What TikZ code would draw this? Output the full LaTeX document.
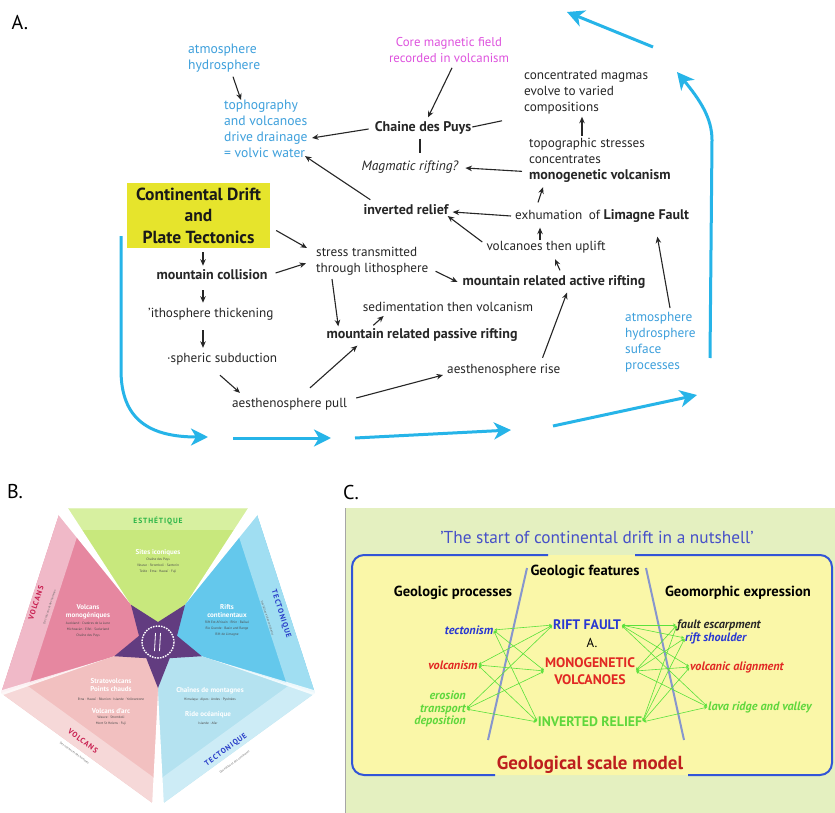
\documentclass[tikz,border=0pt]{standalone}
\usepackage{fontspec}
\setmainfont{PT Sans}
\usetikzlibrary{arrows.meta,calc}
% panel A colours
\definecolor{skyt}{RGB}{62,160,220}
\definecolor{magt}{RGB}{222,82,222}
\definecolor{cyanarr}{RGB}{38,180,232}
\definecolor{ybox}{RGB}{230,228,44}
% panel C colours
\definecolor{cgreen}{RGB}{228,240,192}
\definecolor{cyellow}{RGB}{250,247,168}
\definecolor{cframe}{RGB}{50,85,215}
\definecolor{cdivider}{RGB}{135,150,205}
\definecolor{ctitle}{RGB}{70,80,200}
\definecolor{cblue}{RGB}{40,55,210}
\definecolor{cred}{RGB}{225,40,35}
\definecolor{cgreentext}{RGB}{95,215,60}
\definecolor{carrow}{RGB}{90,225,60}
\definecolor{cmodel}{RGB}{190,30,30}
% panel B colours
\definecolor{bgreen}{RGB}{200,232,125}
\definecolor{bgreenband}{RGB}{215,240,160}
\definecolor{bblue}{RGB}{100,200,236}
\definecolor{bblueband}{RGB}{160,222,242}
\definecolor{blblue}{RGB}{180,226,240}
\definecolor{blblueband}{RGB}{205,236,246}
\definecolor{blpink}{RGB}{242,192,192}
\definecolor{blpinkband}{RGB}{246,216,216}
\definecolor{bpink}{RGB}{230,135,160}
\definecolor{bpinkband}{RGB}{240,185,200}
\definecolor{bstar}{RGB}{98,60,128}
\definecolor{bvolc}{RGB}{200,30,80}
\definecolor{btect}{RGB}{40,60,200}
\definecolor{besth}{RGB}{40,180,70}
% bold words inside a regular label
\newcommand{\boldpart}[1]{{\fontsize{14}{16}\selectfont\bfseries #1}}
\begin{document}
\begin{tikzpicture}[x=1pt,y=-1pt,
  lab/.style={font=\fontsize{13.2}{16}\selectfont, inner sep=0pt, align=left, text=black!85},
  skylab/.style={lab, font=\fontsize{13.6}{16}\selectfont, text=skyt},
  bld/.style={lab, font=\fontsize{14}{16}\selectfont\bfseries},
  cdbox/.style={fill=ybox, font=\fontsize{17.5}{21.5}\selectfont\bfseries, align=center,
    minimum width=143, minimum height=65, inner sep=0pt, text=black!90},
  arr/.style={-{Stealth[length=6.5pt,width=5.5pt]}, line width=1.1pt, black!85},
  ln/.style={line width=1.1pt, black!85},
  carr/.style={-{Stealth[length=17pt,width=17pt,inset=5pt]}, line width=3pt, cyanarr},
  panel/.style={font=\fontsize{20}{22}\selectfont, inner sep=0pt},
  ch/.style={font=\fontsize{14.6}{16}\selectfont\bfseries, inner sep=0pt},
  cc/.style={font=\fontsize{13.8}{17}\selectfont\bfseries, inner sep=0pt},
  ci/.style={font=\fontsize{12.2}{12.5}\selectfont\bfseries\itshape, inner sep=0pt},
  garr/.style={{Stealth[length=3pt,width=3pt]}-{Stealth[length=3pt,width=3pt]}, line width=0.6pt, carrow, shorten <=1pt, shorten >=1pt},
  btitle/.style={font=\fontsize{7.5}{9}\selectfont\bfseries\addfontfeature{LetterSpace=12}, inner sep=0pt},
  bsub/.style={font=\fontsize{3}{4}\selectfont, inner sep=0pt, text=black!60},
  bhead/.style={font=\fontsize{7}{8.5}\selectfont\bfseries, inner sep=0pt, text=white, align=center},
  bsmall/.style={font=\fontsize{3.4}{6}\selectfont, inner sep=0pt, text=black!70, align=center}
]
\useasboundingbox (0,0) rectangle (835,813);
\fill[white] (0,0) rectangle (835,813);

%================ panel A ================
\node[panel] (pA) at (20,23) {A.};

\node[skylab,anchor=north west] (atm1) at (188,44) {atmosphere\\hydrosphere};
\node[skylab,anchor=north west] (topo) at (224,100) {tophography\\and volcanoes\\drive drainage\\= volvic water};
\node[lab,font=\fontsize{12.8}{16}\selectfont,text=magt,align=center] (core) at (449,50) {Core magnetic field\\recorded in volcanism};
\node[bld] (puys) at (423,128) {Chaine des Puys};
\node[lab,font=\fontsize{13.5}{16}\selectfont\itshape] (magrift) at (410,167) {Magmatic rifting?};
\node[lab,anchor=north west] (conc) at (524,70) {concentrated magmas\\evolve to varied\\compositions};
\node[lab,anchor=north west] (topost) at (529,138) {topographic stresses\\concentrates\\\boldpart{monogenetic volcanism}};
\node[bld] (inv) at (406,210) {inverted relief};
\node[lab,anchor=west] (exh) at (515,216) {exhumation\enspace of \boldpart{Limagne Fault}};
\node[lab] (vup) at (546,247) {volcanoes then uplift};
\node[bld] (active) at (554,282) {mountain related active rifting};
\node[skylab,font=\fontsize{13.3}{16}\selectfont,anchor=north west] (atm2) at (625,312) {atmosphere\\hydrosphere\\suface\\processes};
\node[cdbox] (cdpt) at (198.5,215.5) {Continental Drift\\and\\Plate Tectonics};
\node[lab,anchor=north west] (stress) at (316,247) {stress transmitted\\through lithosphere};
\node[bld] (coll) at (212,275) {mountain collision};
\node[lab,anchor=west] (thick) at (148,314) {'ithosphere thickening};
\node[lab,anchor=west] (subd) at (167,359) {·spheric subduction};
\node[lab,anchor=west] (pull) at (232,404) {aesthenosphere pull};
\node[lab,anchor=west] (rise) at (447,370) {aesthenosphere rise};
\node[bld] (passive) at (422,335) {mountain related passive rifting};
\node[lab] (sedim) at (448,307) {sedimentation then volcanism};

\draw[arr] ($(atm1.south west)+(45,4)$) -- ($(topo.north west)+(17,0)$);
\draw[arr] ($(puys.west)+(-6,1)$) -- ($(topo.north west)+(88,38)$);
\draw[arr] ($(core.south)+(3,5)$) -- ($(puys.north)+(5,-4)$);
\draw[ln] ($(puys.east)+(1,-1)$) -- ($(conc.south west)+(-22,6.5)$);
\draw[ln] ($(puys.south)+(-3,4)$) -- ($(magrift.north)+(10,-8)$);
\draw[arr] ($(topost.west)+(-7,11)$) -- ($(magrift.east)+(7,1)$);
\draw[arr] ($(topost.north west)+(53,-2)$) -- ($(conc.south west)+(58,2.5)$);
\draw[arr] ($(exh.north west)+(23,-7)$) -- ($(topost.south west)+(14,4.5)$);
\draw[arr] ($(exh.west)+(-4,0)$) -- ($(inv.east)+(4,2)$);
\draw[arr] ($(inv.north west)+(7,-5)$) -- ($(topo.south west)+(81,-2)$);
\draw[arr] ($(vup.north)+(-6,-1)$) -- ($(exh.south west)+(25,5)$);
\draw[arr] ($(vup.west)+(-4,-5)$) -- ($(inv.east)+(-1,6)$);
\draw[arr] ($(active.north)+(6,-5)$) -- ($(vup.south)+(9,6)$);
\draw[arr] ($(rise.north east)+(-18,-6)$) -- ($(active.south)+(13,4)$);
\draw[arr] ($(atm2.north west)+(45,-4)$) -- ($(exh.south east)+(-32,14)$);
\draw[arr] ($(cdpt.east)+(6,15)$) -- ($(stress.north west)+(-9,1)$);
\draw[arr] ($(cdpt.south)+(4.5,4)$) -- ($(coll.north)+(-9,-4)$);
\draw[arr] ($(coll.east)+(8,-2)$) -- ($(stress.west)+(-10,2)$);
\draw[arr] ($(coll.south)+(-9,10)$) -- ($(thick.north west)+(55,-5)$);
\draw[arr] ($(thick.south west)+(55,10)$) -- ($(subd.north west)+(36,-5)$);
\draw[arr] ($(subd.south west)+(53,10)$) -- ($(pull.north west)+(8,-5)$);
\draw[arr] ($(pull.north west)+(78,-10)$) -- ($(passive.south west)+(31,4)$);
\draw[arr] ($(pull.east)+(9,-6)$) -- ($(rise.west)+(-4,5)$);
\draw[arr] ($(passive.north west)+(47,-3)$) -- ($(sedim.south west)+(21,4)$);
\draw[arr] ($(stress.south west)+(16,3.5)$) -- ($(passive.north west)+(12,-2)$);
\draw[arr] ($(stress.east)+(7,10)$) -- ($(active.west)+(-5,0)$);

% the cycle of blue arrows around the scheme
\draw[carr] (121,236) -- (121,370) .. controls (121,420) and (150,437) .. (208,437);
\draw[carr] (233,438) -- (331,438);
\draw[carr] (355,438) -- (511,430);
\draw[carr] (553,426) -- (697,395);
\draw[carr] (710,358) -- (712,140) .. controls (712,118) and (700,100) .. (677,72);
\draw[carr] (653,47) -- (567,12);

%================ panel B ================
\node[panel] (pB) at (15,492) {B.};
\begin{scope}[shift={(158,642)}]
  \coordinate (VTL) at (-126:165);
  \coordinate (VTR) at (-54:165);
  \coordinate (VR) at (18:165);
  \coordinate (VB) at (90:165);
  \coordinate (VL) at (162:165);
  \coordinate (O) at (0,0);
  % five sectors, each with a lighter outer band
  \fill[bpink] (O) -- (VL) -- (VTL) -- cycle;
  \fill[bpinkband] (VL) -- (VTL) -- ($(O)!0.82!(VTL)$) -- ($(O)!0.82!(VL)$) -- cycle;
  \fill[bgreen] (O) -- (VTL) -- (VTR) -- cycle;
  \fill[bgreenband] (VTL) -- (VTR) -- ($(O)!0.84!(VTR)$) -- ($(O)!0.84!(VTL)$) -- cycle;
  \fill[bblue] (O) -- (VTR) -- (VR) -- cycle;
  \fill[bblueband] (VTR) -- (VR) -- ($(O)!0.82!(VR)$) -- ($(O)!0.82!(VTR)$) -- cycle;
  \fill[blblue] (O) -- (VR) -- (VB) -- cycle;
  \fill[blblueband] (VR) -- (VB) -- ($(O)!0.84!(VB)$) -- ($(O)!0.84!(VR)$) -- cycle;
  \fill[blpink] (O) -- (VB) -- (VL) -- cycle;
  \fill[blpinkband] (VB) -- (VL) -- ($(O)!0.84!(VL)$) -- ($(O)!0.84!(VB)$) -- cycle;
  % white gaps at the corners: wide ones at the top and bottom, faint ones at the sides
  \foreach \v in {VTL,VTR,VB}
    \fill[white] ($(O)!0.3!(\v)$) -- ($(\v)!6pt!90:(O)$) -- ($(O)!1.08!(\v)$) -- ($(\v)!6pt!-90:(O)$) -- cycle;
  \foreach \v in {VR,VL}
    \fill[white, opacity=0.8] ($(O)!0.35!(\v)$) -- ($(\v)!2.5pt!90:(O)$) -- ($(O)!1.08!(\v)$) -- ($(\v)!2.5pt!-90:(O)$) -- cycle;
  % central star
  \fill[bstar] (-126:46) -- (-90:20) -- (-54:46) -- (-18:20) -- (18:46) -- (54:20)
    -- (90:46) -- (126:20) -- (162:46) -- (198:20) -- cycle;
  \draw[white, line width=1.4pt, dash pattern=on 1.6pt off 1.1pt] (O) circle (16);
  \draw[white, line width=0.8pt] (-2.5,-9) -- (-3.5,9) (2.5,-9) -- (1.5,9);
\end{scope}
\node[btitle, text=besth] (esth) at (158,521) {ESTHÉTIQUE};
\node[btitle, text=bvolc, rotate=72] (volc1) at (36,603) {VOLCANS};
\node[bsub, rotate=72] (volc1s) at (49.5,607) {Des volcans et des hommes};
\node[btitle, text=btect, rotate=-72] (tect1) at (281,614) {TECTONIQUE};
\node[bsub, rotate=-72] (tect1s) at (267.5,618) {Des failles et des continents};
\node[btitle, text=btect, rotate=36] (tect2) at (226,750) {TECTONIQUE};
\node[bsub, rotate=36] (tect2s) at (234.5,762) {Des failles et des continents};
\node[btitle, text=bvolc, rotate=-36] (volc2) at (83,741) {VOLCANS};
\node[bsub, rotate=-36] (volc2s) at (74.5,753) {Des volcans et des hommes};

\node[bhead] (hsites) at (158,553) {Sites iconiques};
\node[bsmall, anchor=north] (ssites) at (158,558) {Chaîne des Puys\\Vésuve · Stromboli · Santorin\\Teide · Etna · Hawaï · Fuji};
\node[bhead] (hmono) at (88,612) {Volcans\\monogéniques};
\node[bsmall, anchor=north] (smono) at (88,622) {Auckland · Cratères de la Lune\\Michoacán · Eifel · Sudurland\\Chaîne des Puys};
\node[bhead] (hrift) at (227,611) {Rifts\\continentaux};
\node[bsmall, anchor=north] (srift) at (227,621) {Rift Est-Africain · Rhin · Baïkal\\Rio Grande · Basin and Range\\Rift de Limagne};
\node[bhead] (hstrato) at (111,685) {Stratovolcans\\Points chauds};
\node[bsmall] (sstrato) at (111,699) {Etna · Hawaï · Réunion · Islande · Yellowstone};
\node[bhead] (harc) at (111,711) {Volcans d'arc};
\node[bsmall, anchor=north] (sarc) at (111,716) {Vésuve · Stromboli\\Mont St Helens · Fuji};
\node[bhead] (hchain) at (210,691) {Chaînes de montagnes};
\node[bsmall] (schain) at (210,700) {Himalaya · Alpes · Andes · Pyrénées};
\node[bhead] (hride) at (208,715) {Ride océanique};
\node[bsmall] (sride) at (208,723) {Islande · Afar};

%================ panel C ================
\node[panel] (pC) at (351,492) {C.};
\fill[cgreen] (345,508) rectangle (835,813);
\draw[black!35, line width=1.2pt] (345.6,508) -- (345.6,813);
\node[font=\fontsize{17.3}{20}\selectfont, text=ctitle, inner sep=0pt] (nut) at (597,537) {'The start of continental drift in a nutshell'};
\fill[cyellow, rounded corners=12] (352,555) rectangle (832,775);
\draw[cframe, line width=2pt, rounded corners=12] (548,555) -- (352,555) -- (352,775) -- (495,775);
\draw[cframe, line width=2pt, rounded corners=12] (688,775) -- (832,775) -- (832,555) -- (635,555);
% slanted dividers between the three columns
\draw[cdivider, line width=2pt] (527,568) -- (488,740);
\draw[cdivider, line width=2pt] (646,568) -- (684,740);

\node[ch] (gfeat) at (585,572) {Geologic features};
\node[ch] (gproc) at (453,593) {Geologic processes};
\node[ch] (gexpr) at (738,593) {Geomorphic expression};

\node[cc, text=cblue] (rift) at (587,625) {RIFT FAULT};
\node[font=\fontsize{13}{14}\selectfont, inner sep=0pt] (alab) at (592,643) {A.};
\node[cc, text=cred, align=center] (mono) at (590,671) {MONOGENETIC\\VOLCANOES};
\node[cc, text=cgreentext] (invr) at (590,722) {INVERTED RELIEF};

\node[ci, text=cblue] (tect) at (469,630) {tectonism};
\node[ci, text=cred] (volc) at (453,665) {volcanism};
\node[ci, text=cgreentext, align=right, anchor=east] (eros) at (466,709) {erosion\\transport\\deposition};
\node[ci, anchor=west, text=black!85] (fesc) at (677,625) {fault escarpment};
\node[ci, anchor=west, text=cblue] (rsh) at (685,638) {rift shoulder};
\node[ci, anchor=west, text=cred] (valign) at (690,667) {volcanic alignment};
\node[ci, anchor=west, text=cgreentext] (lava) at (708,707) {lava ridge and valley};

\foreach \a in {tect,volc,eros}
  \foreach \b in {rift,mono,invr}
    \draw[garr] (\a.east) -- (\b.west);
\foreach \a in {rift,mono,invr}
  \foreach \b in {fesc,rsh,valign,lava}
    \draw[garr] (\a.east) -- (\b.west);

\node[font=\fontsize{18.9}{22}\selectfont\bfseries, text=cmodel, inner sep=0pt] (gsm) at (590,765) {Geological scale model};
\end{tikzpicture}
\end{document}
